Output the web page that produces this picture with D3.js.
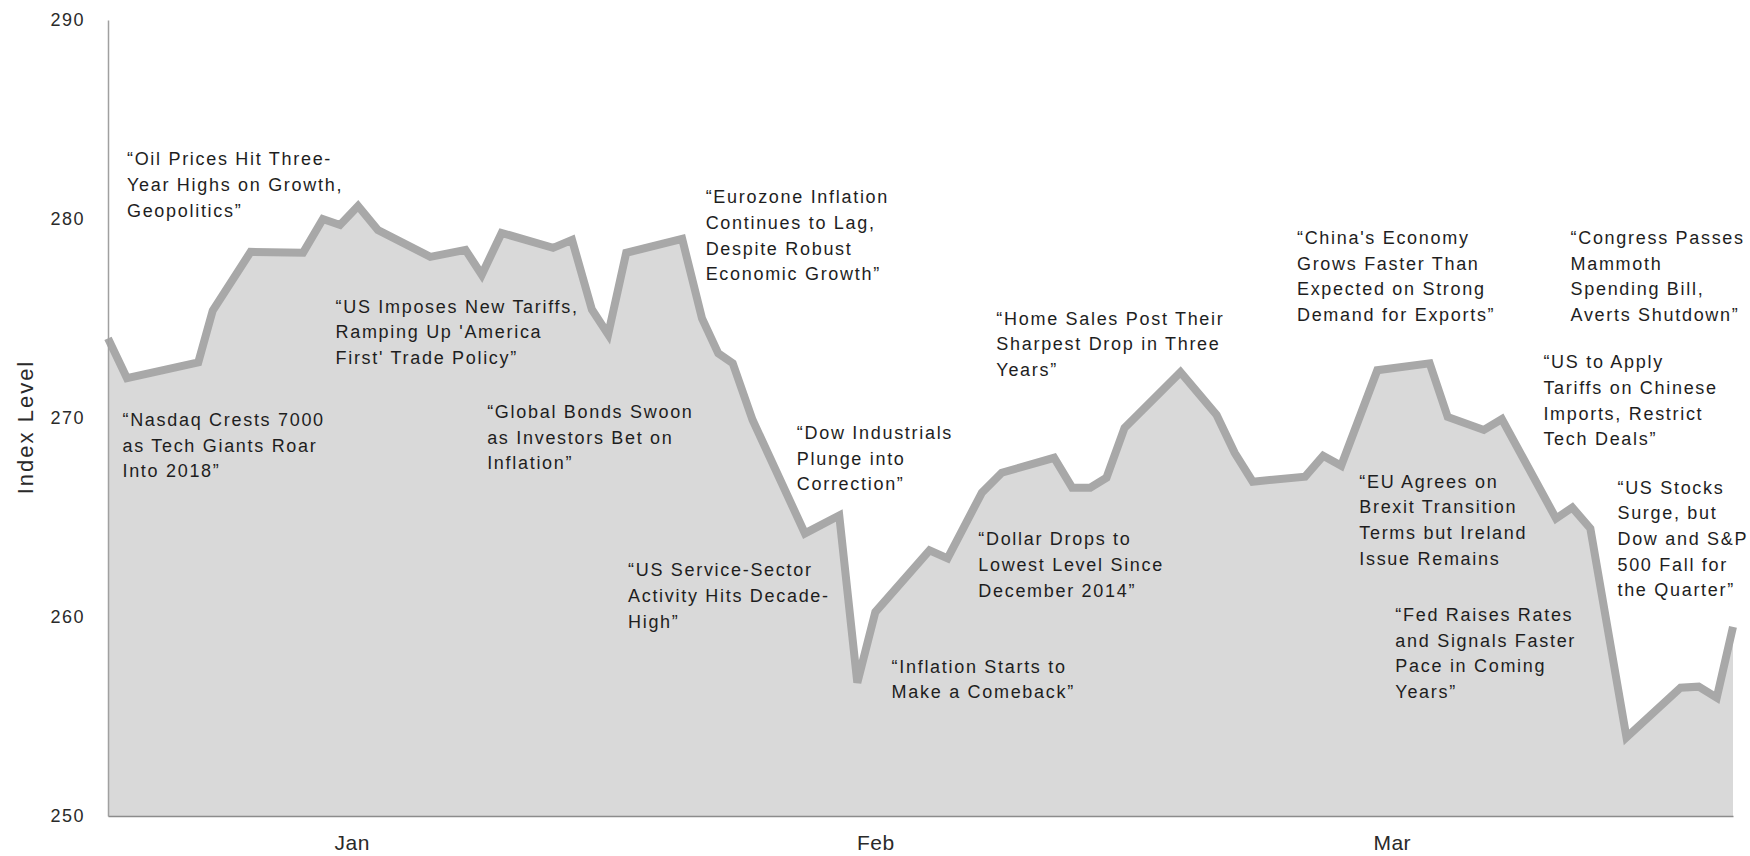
<!DOCTYPE html>
<html>
<head>
    <style>
        body {
            margin: 0;
            background: #fff;
            font-family: "Liberation Sans", Arial, sans-serif;
        }
        .note text {
            font-size: 18px;
            letter-spacing: 1.7px;
            fill: #1e1e1e;
        }
        .axis text {
            fill: #2a2a2a;
        }
    </style>
</head>
<body>
    <div id="chart"></div>
    <script src="https://d3js.org/d3.v7.min.js"></script>
    <script>
        // days since start of quarter and index level
        var days = [0, 1.05, 5, 5.8, 7.9, 10.8, 11.9, 12.85, 13.85, 14.95,
            17.85, 19.8, 20.7, 21.8, 24.65, 25.7, 26.8, 27.7, 28.7, 31.8,
            32.9, 33.8, 34.6, 35.7, 38.6, 40.5, 41.5, 42.5, 45.5, 46.5,
            48.4, 49.5, 52.4, 53.4, 54.4, 55.3, 56.3, 59.4, 61.4, 62.4,
            63.4, 66.3, 67.3, 68.3, 70.3, 73.2, 74.2, 76.2, 77.2, 80.2,
            81.1, 82.1, 84.1, 87.1, 88.1, 89.1, 90];
        var levels = [274.0, 272.0, 272.8, 275.4, 278.35, 278.3, 280.0, 279.7, 280.65, 279.45,
            278.1, 278.45, 277.2, 279.3, 278.55, 278.95, 275.45, 274.2, 278.3, 279.0,
            275.0, 273.25, 272.75, 269.9, 264.2, 265.1, 256.7, 260.25, 263.35, 262.95,
            266.25, 267.25, 268.0, 266.5, 266.5, 267.0, 269.5, 272.3, 270.15, 268.25,
            266.8, 267.05, 268.1, 267.6, 272.4, 272.75, 270.05, 269.4, 269.95, 264.95,
            265.5, 264.45, 253.95, 256.45, 256.5, 255.95, 259.5];

        var yTicks = [250, 260, 270, 280, 290];
        var monthTicks = [13.5, 42.5, 71.1];
        var monthLabels = ["Jan", "Feb", "Mar"];

        // headline notes, anchored at (day, level) of the first line
        var noteDays = [1.05, 0.8, 12.6, 21.0, 33.1, 49.2, 65.85, 81.0, 79.5, 38.15, 28.8, 48.2, 43.4, 69.3, 71.3, 83.6];
        var noteLevels = [283.0, 269.9, 275.6, 270.3, 281.1, 275.0, 279.05, 279.05, 272.8, 269.25, 262.35, 263.9, 257.5, 266.8, 260.1, 266.5];
        var noteTexts = [
            ["\u201COil Prices Hit Three-", "Year Highs on Growth,", "Geopolitics\u201D"],
            ["\u201CNasdaq Crests 7000", "as Tech Giants Roar", "Into 2018\u201D"],
            ["\u201CUS Imposes New Tariffs,", "Ramping Up 'America", "First' Trade Policy\u201D"],
            ["\u201CGlobal Bonds Swoon", "as Investors Bet on", "Inflation\u201D"],
            ["\u201CEurozone Inflation", "Continues to Lag,", "Despite Robust", "Economic Growth\u201D"],
            ["\u201CHome Sales Post Their", "Sharpest Drop in Three", "Years\u201D"],
            ["\u201CChina's Economy", "Grows Faster Than", "Expected on Strong", "Demand for Exports\u201D"],
            ["\u201CCongress Passes", "Mammoth", "Spending Bill,", "Averts Shutdown\u201D"],
            ["\u201CUS to Apply", "Tariffs on Chinese", "Imports, Restrict", "Tech Deals\u201D"],
            ["\u201CDow Industrials", "Plunge into", "Correction\u201D"],
            ["\u201CUS Service-Sector", "Activity Hits Decade-", "High\u201D"],
            ["\u201CDollar Drops to", "Lowest Level Since", "December 2014\u201D"],
            ["\u201CInflation Starts to", "Make a Comeback\u201D"],
            ["\u201CEU Agrees on", "Brexit Transition", "Terms but Ireland", "Issue Remains"],
            ["\u201CFed Raises Rates", "and Signals Faster", "Pace in Coming", "Years\u201D"],
            ["\u201CUS Stocks", "Surge, but", "Dow and S&P", "500 Fall for", "the Quarter\u201D"]
        ];

        var W = 1750, H = 856;
        var plotLeft = 108, plotRight = 1733, plotTop = 20, plotBottom = 816;

        var svg = d3.select("#chart").append("svg")
            .attr("width", W)
            .attr("height", H);

        var x = d3.scaleLinear().domain([0, 90]).range([plotLeft, plotRight]);
        var y = d3.scaleLinear().domain([250, 290]).range([plotBottom, plotTop]);

        var data = days.map(function(d, i) { return {day: d, v: levels[i]}; });

        var area = d3.area()
            .x(function(d) { return x(d.day); })
            .y0(y(250))
            .y1(function(d) { return y(d.v); });

        var line = d3.line()
            .x(function(d) { return x(d.day); })
            .y(function(d) { return y(d.v); });

        svg.append("path")
            .datum(data)
            .attr("d", area)
            .attr("fill", "#d9d9d9");

        svg.append("path")
            .datum(data)
            .attr("d", line)
            .attr("fill", "none")
            .attr("stroke", "#a8a8a8")
            .attr("stroke-width", 8)
            .attr("stroke-linejoin", "miter");

        // axes
        var yAxis = svg.append("g")
            .attr("class", "axis")
            .attr("transform", "translate(" + plotLeft + ",0)")
            .call(d3.axisLeft(y).tickValues(yTicks).tickSize(0).tickPadding(23).tickFormat(d3.format("d")));
        yAxis.select(".domain").attr("stroke", "#a0a0a0").attr("stroke-width", 1.5);
        yAxis.selectAll("text")
            .style("font-size", "18px")
            .style("letter-spacing", "1.5px")
            .style("font-family", "'Liberation Sans', Arial, sans-serif");

        var xAxis = svg.append("g")
            .attr("class", "axis")
            .attr("transform", "translate(0," + plotBottom + ")")
            .call(d3.axisBottom(x).tickValues(monthTicks).tickSize(0).tickSizeOuter(0).tickPadding(19)
                .tickFormat(function(d, i) { return monthLabels[i]; }));
        xAxis.select(".domain").attr("stroke", "#8c8c8c").attr("stroke-width", 1.5);
        xAxis.selectAll("text")
            .style("font-size", "21px")
            .style("letter-spacing", "0.5px")
            .style("font-family", "'Liberation Sans', Arial, sans-serif");

        svg.append("text")
            .attr("transform", "translate(33," + 427 + ") rotate(-90)")
            .attr("text-anchor", "middle")
            .style("font-size", "22px")
            .style("letter-spacing", "2px")
            .style("fill", "#2a2a2a")
            .text("Index Level");

        // notes
        var notes = svg.append("g").attr("class", "note");
        noteTexts.forEach(function(lines, i) {
            var t = notes.append("text")
                .attr("x", x(noteDays[i]))
                .attr("y", y(noteLevels[i]) + 6);
            lines.forEach(function(s, j) {
                t.append("tspan")
                    .attr("x", x(noteDays[i]))
                    .attr("dy", j === 0 ? 0 : 25.7)
                    .text(s);
            });
        });
    </script>
</body>
</html>
